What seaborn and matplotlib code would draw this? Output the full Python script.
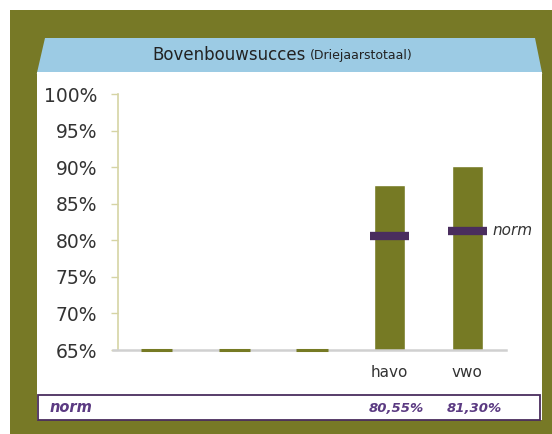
import numpy as np
import seaborn as sns
import pandas as pd
import matplotlib.pyplot as plt
from matplotlib.patches import Rectangle, Polygon

# data
categories = ["", " ", "  ", "havo", "vwo"]
succes = [65.0, 65.0, 65.0, 87.6, 90.2]
norm_cats = ["havo", "vwo"]
norm_vals = [80.55, 81.30]
norm_labels = ["80,55%", "81,30%"]
yticks = [65, 70, 75, 80, 85, 90, 95, 100]

W, H = 552, 434
OLIVE = "#777926"
BAR = "#767a24"
PURPLE = "#4a2d5e"
TXT_PURPLE = "#5b3a82"
BLUE = "#9ccbe4"

sns.set_theme(style="white")
plt.rcParams['font.family'] = ['DejaVu Sans']

fig = plt.figure(figsize=(W / 100, H / 100), dpi=100)
fig.patch.set_facecolor("white")


def fx(x):
    return x / W


def fy(y):
    return 1 - y / H


# background frame
fig.add_artist(Rectangle((fx(10), fy(434)), fx(542), 424 / H, transform=fig.transFigure,
                         facecolor=OLIVE, edgecolor="none", zorder=-3))
fig.add_artist(Polygon([(fx(45), fy(38)), (fx(535), fy(38)), (fx(542.3), fy(74)), (fx(36.7), fy(74))],
                       closed=True, transform=fig.transFigure,
                       facecolor=BLUE, edgecolor="none", zorder=-2.5))
fig.add_artist(Rectangle((fx(37), fy(420)), fx(505), 348.5 / H, transform=fig.transFigure,
                         facecolor="white", edgecolor="none", zorder=-2))
fig.add_artist(Rectangle((fx(38), fy(420)), fx(502), 25 / H, transform=fig.transFigure,
                         facecolor="none", edgecolor=PURPLE, lw=1.3, zorder=-1))

# title
fig.text(fx(306), fy(55), "Bovenbouwsucces", ha="right", va="center",
         fontsize=12, color="#222222")
fig.text(fx(310), fy(56), "(Driejaarstotaal)", ha="left", va="center",
         fontsize=9, color="#222222")

ax = fig.add_axes([fx(118), fy(350), fx(388), (350 - 94) / H])
ax.set_facecolor("none")

df = pd.DataFrame({"cat": categories, "val": succes})
sns.barplot(data=df, x="cat", y="val", color=BAR, saturation=1, width=0.4, ax=ax)

# empty categories drawn as thin lines at the baseline
for i, v in enumerate(succes):
    if v <= yticks[0]:
        ax.hlines(v, i - 0.2, i + 0.2, colors=BAR, lw=2.2, clip_on=False, zorder=3)

# norm markers
for c, v in zip(norm_cats, norm_vals):
    i = categories.index(c)
    ax.hlines(v, i - 0.25, i + 0.25, colors=PURPLE, lw=6, zorder=4)
ax.text(4.33, norm_vals[-1], "norm", ha="left", va="center", fontsize=11,
        style="italic", color="#333333")

ax.set_ylim(yticks[0], yticks[-1])
ax.set_xlim(-0.5, 4.5)
ax.set_yticks(yticks)
ax.set_yticklabels([f"{t}%" for t in yticks], fontsize=13.5, color="#333333")
ax.tick_params(axis="y", direction="out", length=5, width=1, color="#d6d4a4", pad=10, left=True)
ax.tick_params(axis="x", length=0, pad=11, labelsize=11, labelcolor="#333333")
ax.set_xlabel("")
ax.set_ylabel("")
for s in ["top", "right"]:
    ax.spines[s].set_visible(False)
ax.spines["left"].set_color("#d6d4a4")
ax.spines["left"].set_linewidth(1.2)
ax.spines["bottom"].set_color("#d0d0d0")
ax.spines["bottom"].set_linewidth(1.8)
ax.spines["bottom"].set_bounds(-0.56, 4.5)

# norm table row
fig.text(fx(50), fy(408), "norm", ha="left", va="center", fontsize=10.5,
         style="italic", weight="bold", color=TXT_PURPLE)
for c, lab in zip(norm_cats, norm_labels):
    i = categories.index(c)
    xd = ax.transData.transform((i, 0))[0]
    xf = fig.transFigure.inverted().transform((xd, 0))[0] + fx(7)
    fig.text(xf, fy(408), lab, ha="center", va="center", fontsize=9.5,
             style="italic", weight="bold", color=TXT_PURPLE)

fig.savefig("out.png", dpi=100)
